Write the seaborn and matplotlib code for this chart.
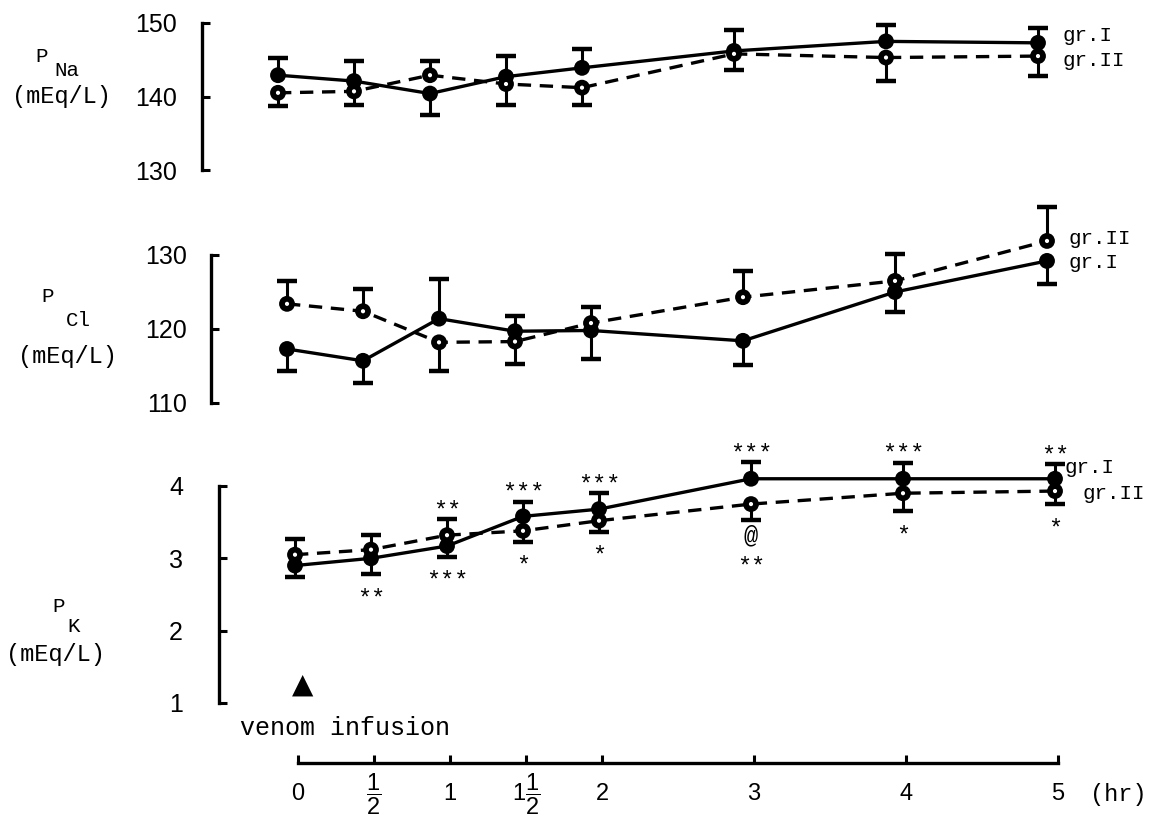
import numpy as np
import pandas as pd
import matplotlib
matplotlib.use("Agg")
import matplotlib.pyplot as plt
import seaborn as sns

# ---- data -------------------------------------------------------------
hours = [0, 0.5, 1, 1.5, 2, 3, 4, 5]
hour_labels = ["0", r"$\dfrac{1}{2}$", "1", r"$1\dfrac{1}{2}$", "2", "3", "4", "5"]
groups = ["gr.I", "gr.II"]

# plasma sodium (mEq/L), mean and SE
na_gr1 = [142.9, 142.1, 140.4, 142.7, 143.9, 146.2, 147.5, 147.3]
na_gr2 = [140.5, 140.7, 142.9, 141.7, 141.2, 145.8, 145.3, 145.5]
na_se1 = [2.4, 2.7, 2.9, 2.8, 2.6, 2.9, 2.2, 2.0]
na_se2 = [1.8, 1.9, 1.9, 2.8, 2.4, 2.2, 3.2, 2.7]

# plasma chloride (mEq/L)
cl_gr1 = [117.3, 115.7, 121.4, 119.7, 119.8, 118.4, 125.0, 129.2]
cl_gr2 = [123.4, 122.4, 118.2, 118.3, 120.8, 124.3, 126.5, 131.9]
cl_se1 = [3.0, 3.0, 5.4, 2.1, 3.8, 3.3, 2.7, 3.1]
cl_se2 = [3.1, 3.0, 3.9, 3.0, 2.2, 3.5, 3.6, 4.6]

# plasma potassium (mEq/L)
k_gr1 = [2.90, 3.00, 3.17, 3.58, 3.68, 4.10, 4.10, 4.10]
k_gr2 = [3.05, 3.12, 3.32, 3.38, 3.52, 3.75, 3.90, 3.93]
k_se1 = [0.16, 0.22, 0.15, 0.20, 0.22, 0.23, 0.22, 0.20]
k_se2 = [0.22, 0.20, 0.22, 0.15, 0.15, 0.22, 0.25, 0.18]

# significance marks on the potassium panel
k_marks_above = ["", "", "**", "***", "***", "***", "***", "**"]
k_marks_below = ["", "**", "***", "*", "*", "@", "*", "*"]
k_marks_below2 = ["", "", "", "", "", "**", "", ""]

# ---- style ------------------------------------------------------------
sns.set_theme(style="white")
plt.rcParams["font.family"] = ["Liberation Sans", "DejaVu Sans"]
plt.rcParams["mathtext.fontset"] = "custom"
plt.rcParams["mathtext.rm"] = "Liberation Sans"
plt.rcParams["mathtext.it"] = "Liberation Sans"
plt.rcParams["mathtext.bf"] = "Liberation Sans"
MONO = ["Liberation Mono", "DejaVu Sans Mono"]

W, H = 1163, 824
fig = plt.figure(figsize=(W / 100, H / 100), dpi=100)
fig.patch.set_facecolor("white")

PX = 72 / 100  # points per pixel


def px_axes(left, top, width, height):
    ax = fig.add_axes([left / W, 1 - (top + height) / H, width / W, height / H])
    ax.set_facecolor("none")
    return ax


def fig_text(x, y, s, size, **kw):
    fig.text(x / W, 1 - y / H, s, fontsize=size, family=MONO,
             ha="center", va="center", color="black", **kw)


XLIM = (-0.5, 5.8)
XW = (XLIM[1] - XLIM[0]) * 152


def draw_panel(ax, g1, g2, se1, se2, ylim, ticks, pad_px):
    g1, g2 = np.asarray(g1), np.asarray(g2)
    se1, se2 = np.asarray(se1), np.asarray(se2)
    df = pd.DataFrame({
        "hour": hours * 2,
        "value": np.concatenate([g1, g2]),
        "group": [groups[0]] * len(hours) + [groups[1]] * len(hours),
    })
    sns.lineplot(data=df, x="hour", y="value", style="group",
                 dashes={"gr.I": "", "gr.II": (4, 2.6)}, color="black",
                 lw=2.4, legend=False, errorbar=None, sort=False, ax=ax,
                 zorder=2)
    # one-sided SE bars: the upper curve gets the bar upward, the lower one downward
    for v, se, other in ((g1, se1, g2), (g2, se2, g1)):
        sign = np.where(v >= other, 1.0, -1.0)
        end = v + sign * se
        ax.vlines(hours, v, end, color="black", lw=2.2, zorder=3)
        ax.plot(hours, end, ls="none", marker="_", ms=14, mew=3.2,
                color="black", zorder=3)
    sns.scatterplot(data=df, x="hour", y="value", color="black", s=130,
                    edgecolor="none", legend=False, ax=ax, zorder=4)
    sns.scatterplot(data=df[df["group"] == "gr.II"], x="hour", y="value",
                    color="white", s=9, edgecolor="none", legend=False,
                    ax=ax, zorder=5)
    ax.set_xlim(*XLIM)
    ax.set_ylim(*ylim)
    ax.set_xticks([])
    ax.set_xlabel("")
    ax.set_ylabel("")
    for side in ("top", "right", "bottom"):
        ax.spines[side].set_visible(False)
    ax.spines["left"].set_bounds(ticks[0], ticks[-1])
    ax.spines["left"].set_linewidth(2.4)
    ax.spines["left"].set_color("black")
    ax.set_yticks(ticks)
    ax.set_yticklabels([str(t) for t in ticks])
    ax.tick_params(axis="y", direction="in", length=6, width=2.2,
                   color="black", pad=pad_px * PX, labelsize=18,
                   labelcolor="black", left=True)
    return g1, g2


def end_label(ax, text, yval, dx, dy):
    ax.annotate(text, xy=(hours[-1], yval), xytext=(dx * PX, dy * PX),
                textcoords="offset points", ha="left", va="center",
                fontsize=15, family=MONO, color="black",
                annotation_clip=False)


# ---- sodium -----------------------------------------------------------
ax_na = px_axes(202, 8.3, XW, 191.1)
draw_panel(ax_na, na_gr1, na_gr2, na_se1, na_se2, (126, 152),
           [130, 140, 150], 25)
end_label(ax_na, "gr.I", na_gr1[-1], 24, 7)
end_label(ax_na, "gr.II", na_gr2[-1], 24, -4)
fig_text(42, 56, "P", 15)
fig_text(67, 71, "Na", 15)
fig_text(61, 97, "(mEq/L)", 17)

# ---- chloride ---------------------------------------------------------
ax_cl = px_axes(211, 195.8, XW, 236.8)
draw_panel(ax_cl, cl_gr1, cl_gr2, cl_se1, cl_se2, (106, 138),
           [110, 120, 130], 24)
end_label(ax_cl, "gr.II", cl_gr2[-1], 22, 2)
end_label(ax_cl, "gr.I", cl_gr1[-1], 22, -2)
fig_text(48, 296, "P", 15)
fig_text(78, 320, "Cl", 15)
fig_text(67, 357, "(mEq/L)", 17)

# ---- potassium --------------------------------------------------------
ax_k = px_axes(219, 420.9, XW, 289.3)
kg1, kg2 = draw_panel(ax_k, k_gr1, k_gr2, k_se1, k_se2, (0.9, 4.9),
                      [1, 2, 3, 4], 36)
end_label(ax_k, "gr.I", k_gr1[-1], 9, 11)
end_label(ax_k, "gr.II", k_gr2[-1], 28, -2)
fig_text(59, 607, "P", 15)
fig_text(74, 626, "K", 15)
fig_text(55, 654, "(mEq/L)", 17)

se1k, se2k = np.asarray(k_se1), np.asarray(k_se2)
top_val = np.maximum(kg1 + np.where(kg1 >= kg2, se1k, 0), kg2 + np.where(kg2 > kg1, se2k, 0))
bot_val = np.minimum(kg1 - np.where(kg1 < kg2, se1k, 0), kg2 - np.where(kg2 <= kg1, se2k, 0))
for h, above, below, below2, tv, bv in zip(hours, k_marks_above, k_marks_below,
                                           k_marks_below2, top_val, bot_val):
    if above:
        ax_k.annotate(above, xy=(h, tv), xytext=(0, 2 * PX),
                      textcoords="offset points", ha="center", va="baseline",
                      fontsize=17, family=MONO, color="black")
    if below:
        off = -22 if below == "@" else -31
        ax_k.annotate(below, xy=(h, bv), xytext=(0, off * PX),
                      textcoords="offset points", ha="center", va="baseline",
                      fontsize=17, family=MONO, color="black")
    if below2:
        ax_k.annotate(below2, xy=(h, bv), xytext=(0, -54 * PX),
                      textcoords="offset points", ha="center", va="baseline",
                      fontsize=17, family=MONO, color="black")

# ---- time axis --------------------------------------------------------
ax_t = px_axes(222, 753, XW, 10)
ax_t.set_xlim(*XLIM)
ax_t.set_ylim(0, 1)
ax_t.set_yticks([])
for side in ("top", "right", "left"):
    ax_t.spines[side].set_visible(False)
ax_t.spines["bottom"].set_bounds(hours[0], hours[-1])
ax_t.spines["bottom"].set_linewidth(2.4)
ax_t.spines["bottom"].set_color("black")
ax_t.set_xticks(hours)
ax_t.set_xticklabels(hour_labels)
ax_t.tick_params(axis="x", direction="in", length=6, width=2.2, color="black",
                 pad=31 * PX, labelsize=17, labelcolor="black", bottom=True)
for lab in ax_t.get_xticklabels():
    lab.set_verticalalignment("center")

ax_t.annotate("(hr)", xy=(hours[-1], 0), xytext=(32 * PX, -31 * PX),
              textcoords="offset points", ha="left", va="center",
              fontsize=17, family=MONO, color="black", annotation_clip=False)
ax_t.annotate("\u25B2", xy=(hours[0], 0), xytext=(5 * PX, 78 * PX),
              textcoords="offset points", ha="center", va="center",
              fontsize=20, family=["DejaVu Sans"], color="black",
              annotation_clip=False)
ax_t.annotate("venom infusion", xy=(hours[0], 0), xytext=(-58 * PX, 35 * PX),
              textcoords="offset points", ha="left", va="center",
              fontsize=18, family=MONO, color="black", annotation_clip=False)

fig.savefig("out.png", dpi=100, facecolor="white")
